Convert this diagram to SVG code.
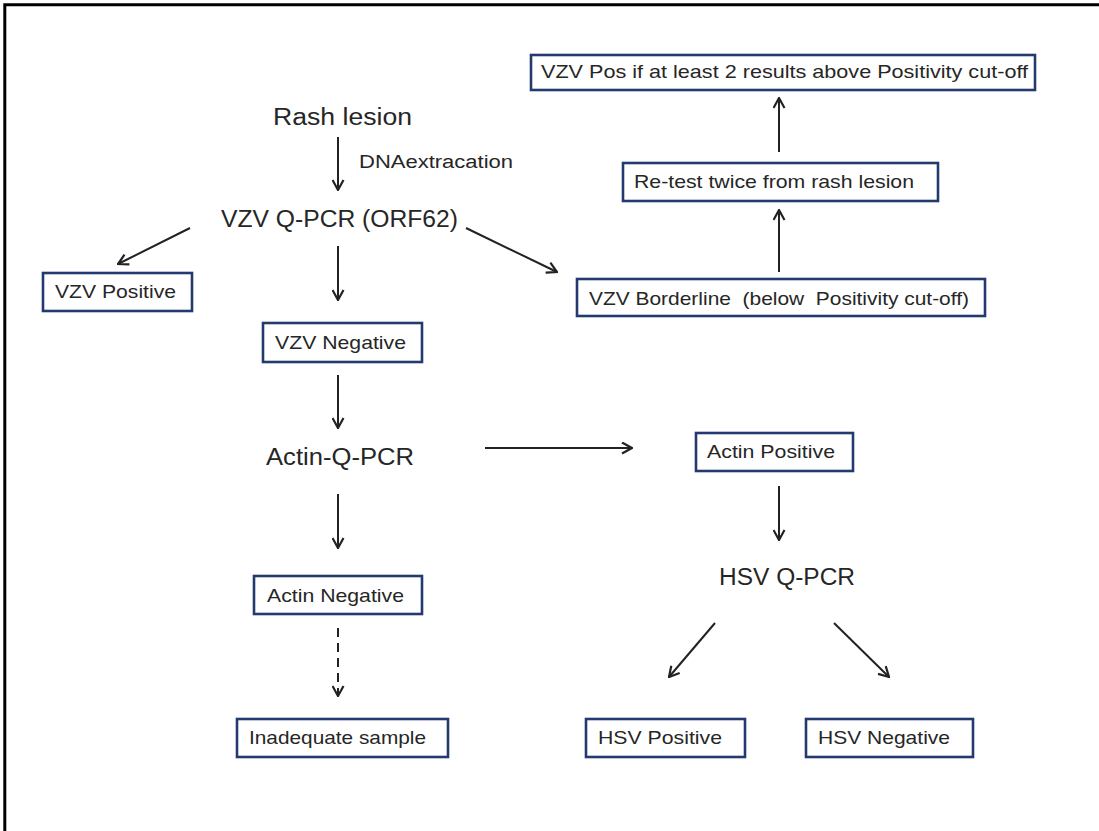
<svg xmlns="http://www.w3.org/2000/svg" width="1099" height="831" viewBox="0 0 1099 831">
  <style>
    .box { fill: #ffffff; stroke: #23396f; stroke-width: 2.6; }
    .bt { font-family: "Liberation Sans", Arial, sans-serif; font-size: 19px; fill: #262626; white-space: pre; }
    .big { font-family: "Liberation Sans", Arial, sans-serif; font-size: 23px; fill: #262626; }
    .sm { font-family: "Liberation Sans", Arial, sans-serif; font-size: 18px; fill: #262626; }
    .edge { fill: none; stroke: #222222; stroke-width: 2; marker-end: url(#arrow); }
    .dash { stroke-dasharray: 9 6; }
  </style>
  <defs>
    <marker id="arrow" viewBox="0 0 13 13" refX="12" refY="6.5" markerWidth="13" markerHeight="13" markerUnits="userSpaceOnUse" orient="auto">
      <path d="M2,1 L12,6.5 L2,12" fill="none" stroke="#222222" stroke-width="2.2"/>
    </marker>
  </defs>

  <rect width="1099" height="831" fill="#ffffff"/>
  <!-- outer frame (open at right and bottom) -->
  <path d="M4.8,831 V4.8 H1099" fill="none" stroke="#000000" stroke-width="3"/>

  <g id="connectors">
    <line class="edge" x1="338" y1="137" x2="338" y2="190"/>
    <line class="edge" x1="190" y1="228" x2="118" y2="264"/>
    <line class="edge" x1="338" y1="246" x2="338" y2="300"/>
    <line class="edge" x1="466" y1="228" x2="557" y2="272"/>
    <line class="edge" x1="779" y1="272" x2="779" y2="210"/>
    <line class="edge" x1="779" y1="152" x2="779" y2="98"/>
    <line class="edge" x1="338" y1="375" x2="338" y2="428"/>
    <line class="edge" x1="485" y1="448" x2="632" y2="448"/>
    <line class="edge" x1="338" y1="494" x2="338" y2="548"/>
    <line class="edge dash" x1="338" y1="628" x2="338" y2="696"/>
    <line class="edge" x1="779" y1="486" x2="779" y2="540"/>
    <line class="edge" x1="715" y1="623" x2="669" y2="677"/>
    <line class="edge" x1="834" y1="623" x2="889" y2="677"/>
  </g>

  <g id="rash-lesion">
    <text class="big" x="273" y="125" textLength="139" lengthAdjust="spacingAndGlyphs">Rash lesion</text>
  </g>
  <g id="dna-extraction">
    <text class="sm" x="359" y="168" textLength="154" lengthAdjust="spacingAndGlyphs">DNAextracation</text>
  </g>
  <g id="vzv-qpcr">
    <text class="big" x="221" y="227" textLength="237" lengthAdjust="spacingAndGlyphs">VZV Q-PCR (ORF62)</text>
  </g>
  <g id="vzv-positive">
    <rect class="box" x="43" y="273" width="149" height="38"/>
    <text class="bt" x="55" y="298" textLength="121" lengthAdjust="spacingAndGlyphs">VZV Positive</text>
  </g>
  <g id="vzv-negative">
    <rect class="box" x="263" y="323" width="159" height="39"/>
    <text class="bt" x="275" y="349" textLength="131" lengthAdjust="spacingAndGlyphs">VZV Negative</text>
  </g>
  <g id="vzv-borderline">
    <rect class="box" x="577" y="279" width="408" height="37"/>
    <text class="bt" x="589" y="305" textLength="380" lengthAdjust="spacingAndGlyphs">VZV Borderline  (below  Positivity cut-off)</text>
  </g>
  <g id="retest">
    <rect class="box" x="623" y="163" width="315" height="38"/>
    <text class="bt" x="634" y="188" textLength="280" lengthAdjust="spacingAndGlyphs">Re-test twice from rash lesion</text>
  </g>
  <g id="vzv-pos-rule">
    <rect class="box" x="531" y="55" width="504" height="35"/>
    <text class="bt" x="541" y="78" textLength="487" lengthAdjust="spacingAndGlyphs">VZV Pos if at least 2 results above Positivity cut-off</text>
  </g>
  <g id="actin-qpcr">
    <text class="big" x="266" y="465" textLength="148" lengthAdjust="spacingAndGlyphs">Actin-Q-PCR</text>
  </g>
  <g id="actin-positive">
    <rect class="box" x="696" y="433" width="157" height="38"/>
    <text class="bt" x="707" y="458" textLength="128" lengthAdjust="spacingAndGlyphs">Actin Positive</text>
  </g>
  <g id="actin-negative">
    <rect class="box" x="254" y="576" width="168" height="38"/>
    <text class="bt" x="267" y="602" textLength="137" lengthAdjust="spacingAndGlyphs">Actin Negative</text>
  </g>
  <g id="inadequate-sample">
    <rect class="box" x="237" y="719" width="211" height="38"/>
    <text class="bt" x="249" y="744" textLength="177" lengthAdjust="spacingAndGlyphs">Inadequate sample</text>
  </g>
  <g id="hsv-qpcr">
    <text class="big" x="719" y="585" textLength="136" lengthAdjust="spacingAndGlyphs">HSV Q-PCR</text>
  </g>
  <g id="hsv-positive">
    <rect class="box" x="586" y="719" width="159" height="38"/>
    <text class="bt" x="598" y="744" textLength="124" lengthAdjust="spacingAndGlyphs">HSV Positive</text>
  </g>
  <g id="hsv-negative">
    <rect class="box" x="806" y="719" width="167" height="38"/>
    <text class="bt" x="818" y="744" textLength="132" lengthAdjust="spacingAndGlyphs">HSV Negative</text>
  </g>
</svg>
